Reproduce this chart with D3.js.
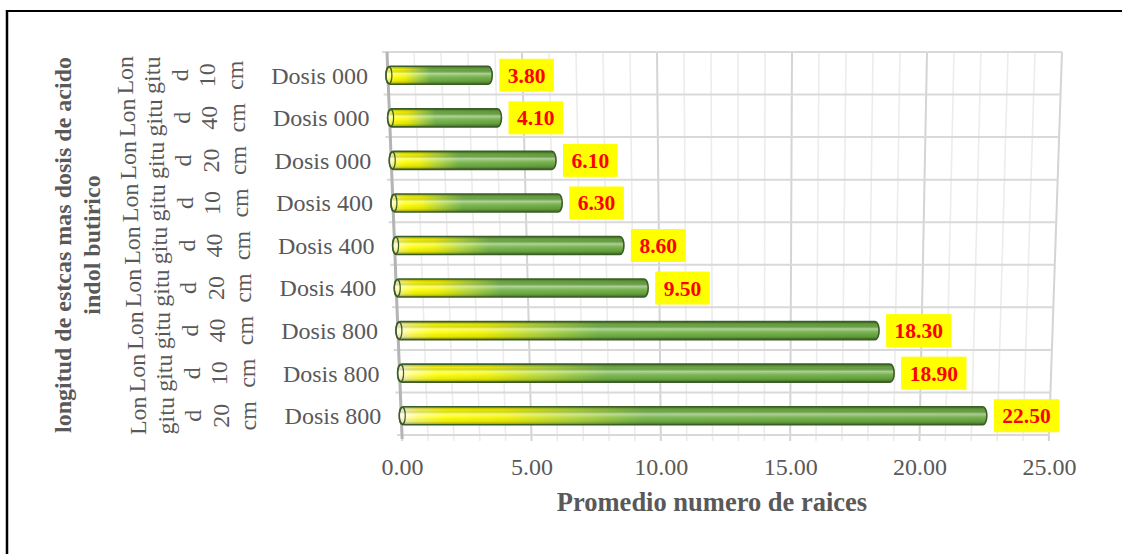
<!DOCTYPE html>
<html>
<head>
<meta charset="utf-8">
<script src="https://cdn.jsdelivr.net/npm/d3@7"></script>
<style>
  html, body { margin: 0; padding: 0; background: #fff; }
  svg { display: block; }
</style>
</head>
<body>
<div id="chart"></div>
<script>
// Rooting trial: mean number of roots per cutting length and IBA dose (rows top to bottom)
const doseLabels   = ["Dosis 000", "Dosis 000", "Dosis 000", "Dosis 400", "Dosis 400", "Dosis 400", "Dosis 800", "Dosis 800", "Dosis 800"];
const lengthLabels = ["10", "40", "20", "10", "40", "20", "40", "10", "20"];
const rootMeans    = [3.80, 4.10, 6.10, 6.30, 8.60, 9.50, 18.30, 18.90, 22.50];
const xTicks       = [0, 5, 10, 15, 20, 25];
const xTitle = "Promedio numero de raices";
const yTitleLines = ["longitud de estcas mas dosis de acido", "indol butirico"];

const W = 1122, H = 554;
const svg = d3.select("#chart").append("svg").attr("width", W).attr("height", H);
const serif = "'Liberation Serif', 'Times New Roman', serif";

// frame
svg.append("line").attr("x1", 7).attr("y1", 11).attr("x2", W + 2).attr("y2", 11)
  .attr("stroke", "#000").attr("stroke-width", 2.2);
svg.append("line").attr("x1", 7).attr("y1", 10).attr("x2", 7).attr("y2", H + 2)
  .attr("stroke", "#000").attr("stroke-width", 2.5);

// plot geometry: the back wall is a trapezoid (slight perspective)
const plotTop = 52, plotBottom = 435;
const rows = d3.range(rootMeans.length);
const y = d3.scaleBand().domain(rows).range([plotTop, plotBottom]);
const leftWall = d3.scaleLinear().domain([plotTop, plotBottom]).range([387, 402]);
const rightWall = d3.scaleLinear().domain([plotTop, plotBottom]).range([1062, 1049]);
const xAt = yy => d3.scaleLinear().domain([0, 25]).range([leftWall(yy), rightWall(yy)]);

const grid = svg.append("g");
// vertical gridlines (minor every 1, major every 5)
d3.range(0, 26).forEach(v => {
  const major = v % 5 === 0;
  grid.append("line")
    .attr("x1", xAt(plotTop)(v)).attr("y1", plotTop)
    .attr("x2", xAt(plotBottom + 6)(v)).attr("y2", plotBottom + 6)
    .attr("stroke", major ? "#d4d4d4" : "#ececec")
    .attr("stroke-width", major ? 2 : 1.6);
});
// horizontal gridlines at the row boundaries
rows.concat([rows.length]).forEach(i => {
  const yy = i < rows.length ? y(i) : plotBottom;
  grid.append("line")
    .attr("x1", leftWall(yy) - 5).attr("y1", yy)
    .attr("x2", rightWall(yy)).attr("y2", yy)
    .attr("stroke", "#d9d9d9").attr("stroke-width", 2);
});
// left wall edge
grid.append("line")
  .attr("x1", leftWall(plotTop)).attr("y1", plotTop)
  .attr("x2", leftWall(plotBottom + 4)).attr("y2", plotBottom + 4)
  .attr("stroke", "#b4b4b4").attr("stroke-width", 3);

// gradients for the cylinder bars
const defs = svg.append("defs");
const hg = defs.append("linearGradient").attr("id", "barFill")
  .attr("x1", "0").attr("x2", "1").attr("y1", "0").attr("y2", "0");
[["0%", "#fffbe8"], ["3%", "#ffff66"], ["8%", "#ffff00"], ["18%", "#f2f500"],
 ["29%", "#b5d93a"], ["42%", "#74b548"], ["100%", "#6aaa3f"]]
  .forEach(([o, c]) => hg.append("stop").attr("offset", o).attr("stop-color", c));
const vg = defs.append("linearGradient").attr("id", "barShade")
  .attr("x1", "0").attr("x2", "0").attr("y1", "0").attr("y2", "1");
[["0%", "#000", 0.35], ["18%", "#000", 0.05], ["40%", "#fff", 0.45], ["58%", "#fff", 0.1],
 ["82%", "#000", 0.08], ["100%", "#000", 0.4]]
  .forEach(([o, c, a]) => vg.append("stop").attr("offset", o).attr("stop-color", c).attr("stop-opacity", a));

const barH = 18, barShift = 2;
const bars = svg.append("g");
rows.forEach(i => {
  const cy = y(i) + y.bandwidth() / 2 + barShift;
  const xs = xAt(cy);
  const x0 = xs(0) - 2, x1 = xs(rootMeans[i]) + 2;
  const g = bars.append("g");
  g.append("rect").attr("x", x0).attr("y", cy - barH / 2)
    .attr("width", x1 - x0).attr("height", barH)
    .attr("rx", 4).attr("ry", 9).attr("fill", "url(#barFill)");
  g.append("rect").attr("x", x0).attr("y", cy - barH / 2)
    .attr("width", x1 - x0).attr("height", barH)
    .attr("rx", 4).attr("ry", 9).attr("fill", "url(#barShade)")
    .attr("stroke", "#3b5e26").attr("stroke-width", 1.6);
  // left end cap
  g.append("ellipse").attr("cx", x0 + 3).attr("cy", cy)
    .attr("rx", 3).attr("ry", barH / 2 - 0.5)
    .attr("fill", "none").attr("stroke", "#3b5e26").attr("stroke-width", 1.2);

  // value label in a yellow box
  const lbl = svg.append("g");
  const t = lbl.append("text").attr("x", 0).attr("y", cy).attr("dy", "0.35em")
    .attr("font-family", serif).attr("font-weight", "bold").attr("font-size", 21.5)
    .attr("fill", "#ff0000").attr("text-anchor", "middle")
    .text(rootMeans[i].toFixed(2));
  const tw = t.node().getComputedTextLength();
  const bw = tw + 17, bx = x1 + 7;
  lbl.insert("rect", "text").attr("x", bx).attr("y", cy - 16.5)
    .attr("width", bw).attr("height", 33).attr("fill", "#ffff00");
  t.attr("x", bx + bw / 2);
});

// category labels (dose)
const cat = svg.append("g").attr("font-family", serif).attr("font-size", 24).attr("fill", "#595959");
rows.forEach(i => {
  const cy = y(i) + y.bandwidth() / 2 + barShift;
  cat.append("text").attr("x", leftWall(cy) - 20).attr("y", cy).attr("dy", "0.35em")
    .attr("text-anchor", "end").text(doseLabels[i]);
});

// outer category labels (cutting length), wrapped and rotated
rows.forEach(i => {
  const cy = y(i) + y.bandwidth() / 2 + barShift;
  const parts = ["Lon", "gitu", "d", lengthLabels[i], "cm"];
  const base = leftWall(cy) - 255;
  parts.forEach((p, k) => {
    const bx = base + k * 27.5;
    cat.append("text")
      .attr("transform", `translate(${bx},${cy}) rotate(-90)`)
      .attr("text-anchor", "middle").text(p);
  });
});

// x axis labels along the front edge of the floor
const xBottom = xAt(plotBottom);
const xAxis = svg.append("g").attr("transform", `translate(0,${plotBottom})`)
  .call(d3.axisBottom(xBottom).tickValues(xTicks).tickFormat(d3.format(".2f")).tickSize(0).tickPadding(0));
xAxis.select(".domain").remove();
xAxis.selectAll("text").attr("font-family", serif).attr("font-size", 24)
  .attr("fill", "#595959").attr("y", 40).attr("dy", 0);

// axis titles
svg.append("text").attr("x", 712).attr("y", 511)
  .attr("text-anchor", "middle").attr("font-family", serif).attr("font-weight", "bold")
  .attr("font-size", 26.5).attr("fill", "#595959").text(xTitle);
const yt = svg.append("text").attr("transform", "translate(71,245) rotate(-90)")
  .attr("text-anchor", "middle").attr("font-family", serif).attr("font-weight", "bold")
  .attr("font-size", 24).attr("fill", "#595959");
yTitleLines.forEach((s, k) => yt.append("tspan").attr("x", 0).attr("y", k * 29).text(s));
</script>
</body>
</html>
